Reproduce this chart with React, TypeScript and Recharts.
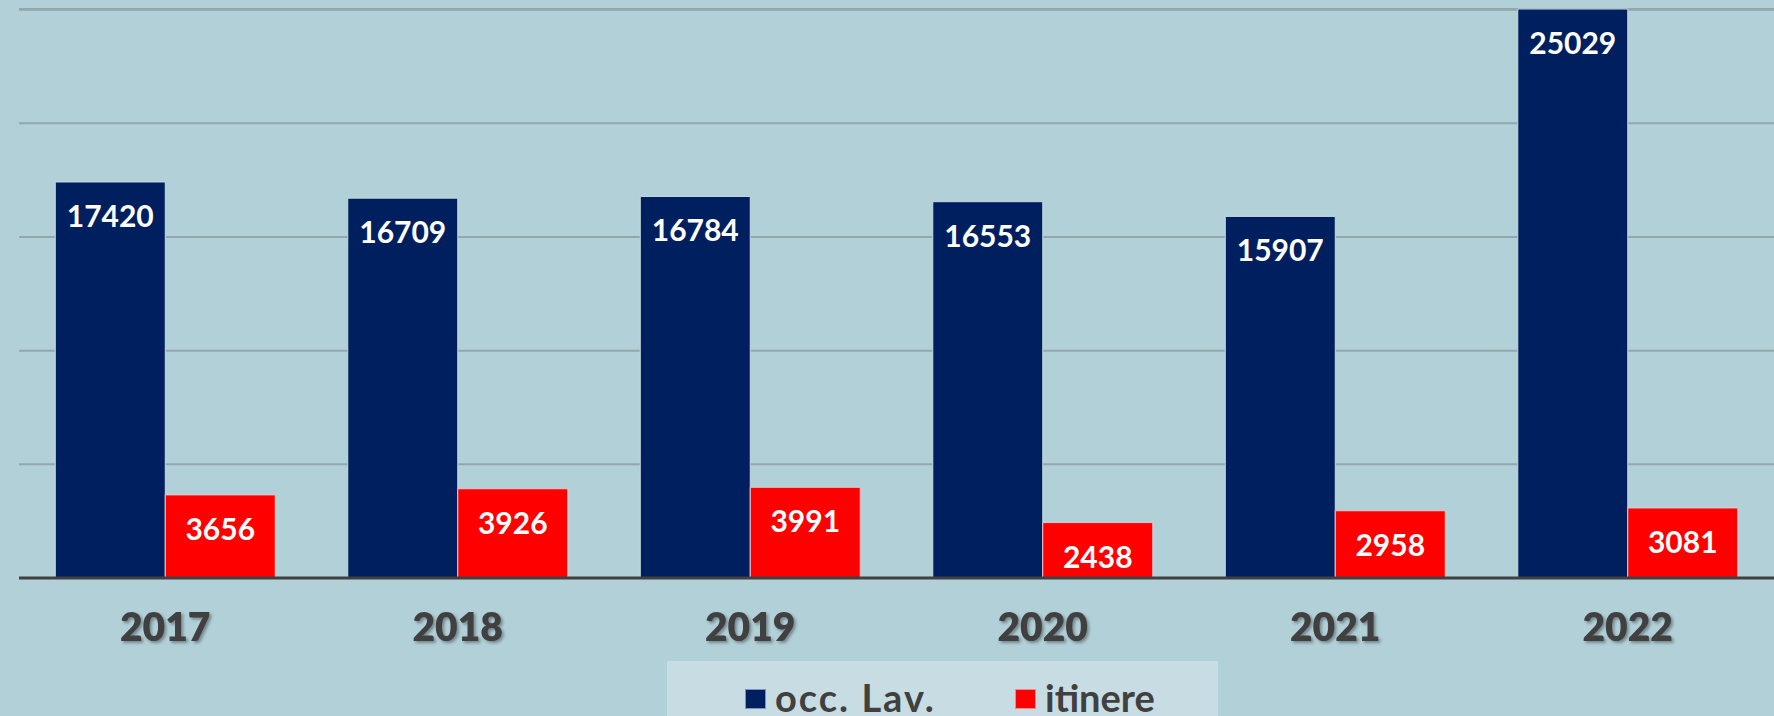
import React from 'react'
import { Bar, BarChart, XAxis, YAxis, CartesianGrid, LabelList } from 'recharts'

const years = ['2017', '2018', '2019', '2020', '2021', '2022']
const occLav = [17420, 16709, 16784, 16553, 15907, 25029]
const itinere = [3656, 3926, 3991, 2438, 2958, 3081]
const yTicks = [0, 5000, 10000, 15000, 20000, 25000]

const data = years.map((year, i) => ({ year, occLav: occLav[i], itinere: itinere[i] }))

const NAVY = '#001f5f'
const RED = '#ff0000'
const FONT = 'Lato, "DejaVu Sans", sans-serif'

const ValueLabel = (props: any) => {
   const { x, y, width, value } = props
   return (
      <text
         x={x + width / 2}
         y={y + 33}
         textAnchor="middle"
         dominantBaseline="central"
         fill="#ffffff"
         fontFamily={FONT}
         fontWeight={700}
         fontSize={30}
      >
         {value}
      </text>
   )
}

const YearTick = (props: any) => {
   const { x, y, payload } = props
   return (
      <text
         x={x}
         y={y + 48}
         textAnchor="middle"
         dominantBaseline="central"
         fill="#404040"
         fontFamily={FONT}
         fontWeight={800}
         fontSize={39}
         style={{ filter: 'drop-shadow(2px 2px 1.5px rgba(0,0,0,0.35))' }}
      >
         {payload.value}
      </text>
   )
}

const LegendItem = ({ color, border, label, left, spacing }: { color: string; border: string; label: string; left: number; spacing: number }) => (
   <div style={{ position: 'absolute', left, top: 0 }}>
      <div
         style={{
            position: 'absolute',
            left: 0,
            top: 28,
            width: 21,
            height: 20,
            boxSizing: 'border-box',
            background: color,
            border: `1px solid ${border}`,
         }}
      />
      <span
         style={{
            position: 'absolute',
            left: 30,
            top: 21,
            whiteSpace: 'nowrap',
            fontFamily: FONT,
            fontWeight: 700,
            fontSize: 38,
            lineHeight: '30px',
            color: '#404040',
            letterSpacing: spacing,
         }}
      >
         {label}
      </span>
   </div>
)

const App: React.FC = () => {
   return (
      <div style={{ position: 'absolute', left: 0, top: 0, width: 1774, height: 716, background: '#b2d0d8', overflow: 'hidden' }}>
         <BarChart
            width={1774}
            height={716}
            data={data}
            margin={{ top: 9, right: 0, left: 19, bottom: 0 }}
            barCategoryGap="12.4%"
            barGap={0}
         >
            <CartesianGrid vertical={false} stroke="#93a6ac" strokeWidth={2} />
            <YAxis
               width={0}
               domain={[0, 25000]}
               ticks={yTicks}
               tick={{ fill: 'transparent', fontSize: 1 }}
               axisLine={false}
               tickLine={false}
            />
            <XAxis
               dataKey="year"
               height={138}
               tickLine={false}
               tickSize={0}
               tickMargin={0}
               axisLine={{ stroke: '#404040', strokeWidth: 3 }}
               tick={<YearTick />}
               interval={0}
            />
            <Bar dataKey="occLav" fill={NAVY} stroke="#c9d9e1" strokeWidth={1} isAnimationActive={false}>
               <LabelList dataKey="occLav" content={<ValueLabel />} />
            </Bar>
            <Bar dataKey="itinere" fill={RED} stroke="#e3c8cc" strokeWidth={1} isAnimationActive={false}>
               <LabelList dataKey="itinere" content={<ValueLabel />} />
            </Bar>
         </BarChart>
         <div
            style={{
               position: 'absolute',
               left: 667,
               top: 661,
               width: 551,
               height: 55,
               background: '#c8dde3',
               overflow: 'hidden',
            }}
         >
            <LegendItem color={NAVY} border="#7f93b8" label="occ. Lav." left={78} spacing={2} />
            <LegendItem color={RED} border="#f08a8a" label="itinere" left={348} spacing={0} />
         </div>
      </div>
   )
}

export default App
